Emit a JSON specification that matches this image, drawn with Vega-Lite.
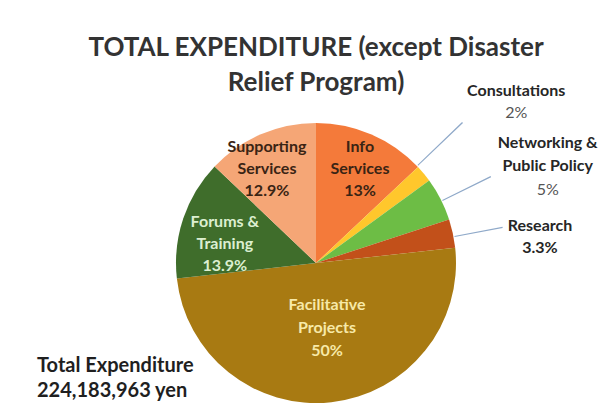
{
  "$schema": "https://vega.github.io/schema/vega-lite/v6.json",
  "padding": {"left": 37, "top": 34, "right": 0, "bottom": 0},
  "background": "white",
  "config": {"view": {"stroke": null}, "font": "Lato"},
  "data": {
    "values": [
      {"cat": "Info Services", "value": 13, "n": 1, "label": "Info\nServices\n13%", "name": "Info\nServices", "pct": "13%"},
      {"cat": "Consultations", "value": 2, "n": 2, "label": "Consultations\n2%", "name": "Consultations", "pct": "2%"},
      {"cat": "Networking & Public Policy", "value": 5, "n": 3, "label": "Networking &\nPublic Policy\n5%", "name": "Networking &\nPublic Policy", "pct": "5%"},
      {"cat": "Research", "value": 3.3, "n": 4, "label": "Research\n3.3%", "name": "Research", "pct": "3.3%"},
      {"cat": "Facilitative Projects", "value": 50, "n": 5, "label": "Facilitative\nProjects\n50%", "name": "Facilitative\nProjects", "pct": "50%"},
      {"cat": "Forums & Training", "value": 13.9, "n": 6, "label": "Forums &\nTraining\n13.9%", "name": "Forums &\nTraining", "pct": "13.9%"},
      {"cat": "Supporting Services", "value": 12.9, "n": 7, "label": "Supporting\nServices\n12.9%", "name": "Supporting\nServices", "pct": "12.9%"}
    ]
  },
  "bounds": "flush",
  "spacing": 10,
  "hconcat": [
    {
      "width": 129,
      "height": 220,
      "title": {
        "text": ["Total Expenditure", "224,183,963 yen"],
        "orient": "bottom",
        "anchor": "start",
        "align": "left",
        "frame": "group",
        "font": "Lato",
        "fontSize": 20,
        "fontWeight": "bold",
        "lineHeight": 25,
        "color": "#1f1f1f",
        "offset": 13
      },
      "mark": {"type": "text"},
      "encoding": {"text": {"value": ""}}
    },
    {
      "width": 280,
      "height": 280,
      "title": {
        "text": ["TOTAL EXPENDITURE (except Disaster", "Relief Program)"],
        "anchor": "middle",
        "frame": "group",
        "font": "Lato",
        "fontSize": 26,
        "fontWeight": "bold",
        "lineHeight": 35,
        "color": "#333333",
        "offset": -13
      },
      "layer": [
        {
          "mark": {"type": "arc", "outerRadius": 140},
          "encoding": {
            "theta": {"field": "value", "type": "quantitative", "stack": true},
            "order": {"field": "n", "type": "quantitative"},
            "color": {
              "field": "cat",
              "type": "nominal",
              "scale": {
                "domain": ["Info Services", "Consultations", "Networking & Public Policy", "Research", "Facilitative Projects", "Forums & Training", "Supporting Services"],
                "range": ["#F47A3A", "#FFC72C", "#6DBD45", "#C2501A", "#A87A12", "#3F6D2B", "#F5A676"]
              },
              "legend": null
            }
          }
        },
        {
          "transform": [
            {"stack": "value", "groupby": [], "sort": [{"field": "n", "order": "ascending"}], "as": ["v0", "v1"]},
            {"filter": "datum.cat === 'Consultations'"}
          ],
          "mark": {"type": "arc", "innerRadius": 141, "outerRadius": 203, "thetaOffset": -0.0131, "theta2Offset": -0.0061, "color": "#8FA9C9"},
          "encoding": {
            "theta": {"field": "v0", "type": "quantitative", "stack": null},
            "theta2": {"field": "v0"}
          }
        },
        {
          "transform": [
            {"stack": "value", "groupby": [], "sort": [{"field": "n", "order": "ascending"}], "as": ["v0", "v1"]},
            {"filter": "datum.cat === 'Networking & Public Policy'"}
          ],
          "mark": {"type": "arc", "innerRadius": 141, "outerRadius": 195, "thetaOffset": 0.1667, "theta2Offset": 0.1737, "color": "#8FA9C9"},
          "encoding": {
            "theta": {"field": "v0", "type": "quantitative", "stack": null},
            "theta2": {"field": "v0"}
          }
        },
        {
          "transform": [
            {"stack": "value", "groupby": [], "sort": [{"field": "n", "order": "ascending"}], "as": ["v0", "v1"]},
            {"filter": "datum.cat === 'Research'"}
          ],
          "mark": {"type": "arc", "innerRadius": 141, "outerRadius": 190, "thetaOffset": 0.1234, "theta2Offset": 0.1304, "color": "#8FA9C9"},
          "encoding": {
            "theta": {"field": "v0", "type": "quantitative", "stack": null},
            "theta2": {"field": "v0"}
          }
        },
        {
          "transform": [
            {"stack": "value", "groupby": [], "sort": [{"field": "n", "order": "ascending"}], "as": ["v0", "v1"]},
            {"filter": "datum.cat === 'Info Services'"}
          ],
          "mark": {"type": "text", "radius": 124, "thetaOffset": 0.3625, "fontSize": 16, "fontWeight": "bold", "lineBreak": "\n", "lineHeight": 22, "color": "#3a2414"},
          "encoding": {
            "theta": {"field": "v0", "type": "quantitative", "stack": null},
            "text": {"field": "label", "type": "nominal"}
          }
        },
        {
          "transform": [
            {"stack": "value", "groupby": [], "sort": [{"field": "n", "order": "ascending"}], "as": ["v0", "v1"]},
            {"filter": "datum.cat === 'Supporting Services'"}
          ],
          "mark": {"type": "text", "radius": 126, "thetaOffset": 0.41, "fontSize": 16, "fontWeight": "bold", "lineBreak": "\n", "lineHeight": 22, "color": "#3a2414"},
          "encoding": {
            "theta": {"field": "v0", "type": "quantitative", "stack": null},
            "text": {"field": "label", "type": "nominal"}
          }
        },
        {
          "transform": [
            {"stack": "value", "groupby": [], "sort": [{"field": "n", "order": "ascending"}], "as": ["v0", "v1"]},
            {"filter": "datum.cat === 'Forums & Training'"}
          ],
          "mark": {"type": "text", "radius": 100, "thetaOffset": 0.5346, "fontSize": 16, "fontWeight": "bold", "lineBreak": "\n", "lineHeight": 22, "color": "#DCEFD0"},
          "encoding": {
            "theta": {"field": "v0", "type": "quantitative", "stack": null},
            "text": {"field": "label", "type": "nominal"}
          }
        },
        {
          "transform": [
            {"stack": "value", "groupby": [], "sort": [{"field": "n", "order": "ascending"}], "as": ["v0", "v1"]},
            {"filter": "datum.cat === 'Facilitative Projects'"}
          ],
          "mark": {"type": "text", "radius": 43.4, "thetaOffset": 1.4228, "fontSize": 16, "fontWeight": "bold", "lineBreak": "\n", "lineHeight": 23, "color": "#F7E9A8"},
          "encoding": {
            "theta": {"field": "v0", "type": "quantitative", "stack": null},
            "text": {"field": "label", "type": "nominal"}
          }
        },
        {
          "transform": [
            {"stack": "value", "groupby": [], "sort": [{"field": "n", "order": "ascending"}], "as": ["v0", "v1"]},
            {"filter": "datum.cat === 'Consultations'"}
          ],
          "mark": {"type": "text", "radius": 257, "thetaOffset": 0.077, "dy": -11, "fontSize": 16, "fontWeight": "bold", "color": "#262626"},
          "encoding": {
            "theta": {"field": "v0", "type": "quantitative", "stack": null},
            "text": {"field": "name", "type": "nominal"}
          }
        },
        {
          "transform": [
            {"stack": "value", "groupby": [], "sort": [{"field": "n", "order": "ascending"}], "as": ["v0", "v1"]},
            {"filter": "datum.cat === 'Consultations'"}
          ],
          "mark": {"type": "text", "radius": 257, "thetaOffset": 0.077, "dy": 11, "fontSize": 16, "fontWeight": "normal", "color": "#555555"},
          "encoding": {
            "theta": {"field": "v0", "type": "quantitative", "stack": null},
            "text": {"field": "pct", "type": "nominal"}
          }
        },
        {
          "transform": [
            {"stack": "value", "groupby": [], "sort": [{"field": "n", "order": "ascending"}], "as": ["v0", "v1"]},
            {"filter": "datum.cat === 'Networking & Public Policy'"}
          ],
          "mark": {"type": "text", "radius": 251, "thetaOffset": 0.2347, "dy": -23.5, "fontSize": 16, "fontWeight": "bold", "lineBreak": "\n", "lineHeight": 23, "color": "#262626"},
          "encoding": {
            "theta": {"field": "v0", "type": "quantitative", "stack": null},
            "text": {"field": "name", "type": "nominal"}
          }
        },
        {
          "transform": [
            {"stack": "value", "groupby": [], "sort": [{"field": "n", "order": "ascending"}], "as": ["v0", "v1"]},
            {"filter": "datum.cat === 'Networking & Public Policy'"}
          ],
          "mark": {"type": "text", "radius": 251, "thetaOffset": 0.2347, "dy": 23.5, "fontSize": 16, "fontWeight": "normal", "color": "#555555"},
          "encoding": {
            "theta": {"field": "v0", "type": "quantitative", "stack": null},
            "text": {"field": "pct", "type": "nominal"}
          }
        },
        {
          "transform": [
            {"stack": "value", "groupby": [], "sort": [{"field": "n", "order": "ascending"}], "as": ["v0", "v1"]},
            {"filter": "datum.cat === 'Research'"}
          ],
          "mark": {"type": "text", "radius": 225.5, "thetaOffset": 0.1998, "dy": -11, "fontSize": 16, "fontWeight": "bold", "lineBreak": "\n", "lineHeight": 22, "color": "#262626"},
          "encoding": {
            "theta": {"field": "v0", "type": "quantitative", "stack": null},
            "text": {"field": "label", "type": "nominal"}
          }
        }
      ]
    }
  ]
}
